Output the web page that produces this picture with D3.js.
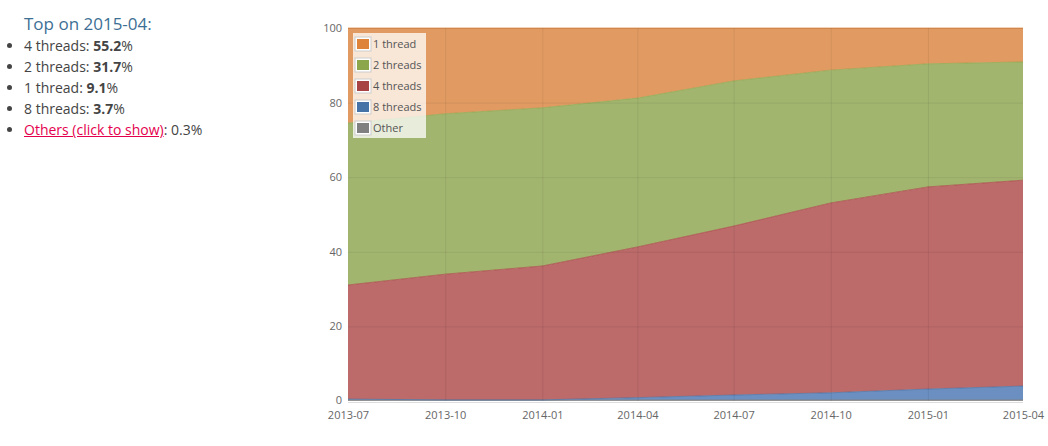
<!DOCTYPE html>
<html>
<head>
<meta charset="utf-8">
<script src="https://cdn.jsdelivr.net/npm/d3@7"></script>
<style>
  body { margin: 0; font-family: "Open Sans", sans-serif; background: #fff; }
  #side { position: absolute; left: 0; top: 13px; width: 290px; color: #444; font-size: 14px; }
  #side h4 { margin: 0 0 0 24px; font-weight: normal; font-size: 17px; color: #3d6f95; line-height: 22px; }
  #side ul { margin: 0; padding-left: 24px; }
  #side li { line-height: 21px; height: 21px; }
  #side a { color: #e4004d; }
  #chart { position: absolute; left: 0; top: 0; }
</style>
</head>
<body>
<div id="side"></div>
<div id="chart"></div>
<script>
// quarterly snapshots, percent share by thread count
const months = ["2013-07", "2013-10", "2014-01", "2014-04", "2014-07", "2014-10", "2015-01", "2015-04"];
const other = [0.3, 0.2, 0.2, 0.3, 0.3, 0.3, 0.3, 0.3];
const eightThreads = [0.2, 0.1, 0.1, 0.6, 1.3, 1.9, 2.9, 3.7];
const fourThreads = [30.6, 33.7, 35.9, 40.4, 45.3, 50.9, 54.2, 55.2];
const twoThreads = [43.4, 43.0, 42.4, 39.9, 38.9, 35.6, 33.0, 31.7];
const oneThread = [25.5, 23.0, 21.4, 18.8, 14.2, 11.3, 9.6, 9.1];
const yTicks = [0, 20, 40, 60, 80, 100];

const seriesNames = ["1 thread", "2 threads", "4 threads", "8 threads", "Other"];
const fillColors = ["#e19b62", "#a2b56f", "#bc6a6a", "#6b8fc0", "#9a9a9a"];
const swatchColors = ["#dd843a", "#8ba64b", "#a84343", "#4572a7", "#808080"];

// side summary for the last month
const last = months.length - 1;
const topList = [
  ["4 threads", fourThreads[last]],
  ["2 threads", twoThreads[last]],
  ["1 thread", oneThread[last]],
  ["8 threads", eightThreads[last]]
];
const side = d3.select("#side");
side.append("h4").text(`Top on ${months[last]}:`);
const ul = side.append("ul");
topList.forEach(([name, v]) => {
  const li = ul.append("li");
  li.append("span").text(`${name}: `);
  li.append("b").text(v.toFixed(1));
  li.append("span").text("%");
});
const liOther = ul.append("li");
liOther.append("a").attr("href", "#").text("Others (click to show)");
liOther.append("span").text(`: ${other[last].toFixed(1)}%`);

/////////////////////
// Chart
/////////////////////
const width = 1048, height = 446;
const margin = { top: 28, right: 25, bottom: 45, left: 348 };
const innerW = width - margin.left - margin.right;
const innerH = height - margin.top - margin.bottom;

const svg = d3.select("#chart").append("svg")
  .attr("width", width)
  .attr("height", height);
const g = svg.append("g").attr("transform", `translate(${margin.left},${margin.top})`);

const data = months.map((m, i) => ({
  month: m,
  "Other": other[i],
  "8 threads": eightThreads[i],
  "4 threads": fourThreads[i],
  "2 threads": twoThreads[i],
  "1 thread": oneThread[i]
}));

const stackKeys = ["Other", "8 threads", "4 threads", "2 threads", "1 thread"];
const stacked = d3.stack().keys(stackKeys)(data);

const parse = d3.utcParse("%Y-%m");
const xScale = d3.scaleUtc()
  .domain(d3.extent(months, parse))
  .range([0, innerW]);
const yScale = d3.scaleLinear().domain([0, 100]).range([innerH, 0]);

const area = d3.area()
  .x(d => xScale(parse(d.data.month)))
  .y0(d => yScale(d[0]))
  .y1(d => yScale(d[1]));

const colorOf = k => fillColors[seriesNames.indexOf(k)];
const lineOf = k => swatchColors[seriesNames.indexOf(k)];

g.append("g").selectAll("path")
  .data(stacked)
  .join("path")
  .attr("fill", d => colorOf(d.key))
  .attr("d", area);

g.append("g").selectAll("path")
  .data(stacked)
  .join("path")
  .attr("fill", "none")
  .attr("stroke", d => lineOf(d.key))
  .attr("stroke-width", 1)
  .attr("opacity", 0.7)
  .attr("d", d3.line().x(d => xScale(parse(d.data.month))).y(d => yScale(d[1])));

// grid over the areas
const grid = g.append("g").attr("stroke", "#000").attr("stroke-opacity", 0.07);
grid.selectAll(".gx").data(months.slice(1, -1)).join("line")
  .attr("x1", d => xScale(parse(d)) + 0.5).attr("x2", d => xScale(parse(d)) + 0.5)
  .attr("y1", 0).attr("y2", innerH);
grid.selectAll(".gy").data(yTicks.slice(1)).join("line")
  .attr("x1", 0).attr("x2", innerW)
  .attr("y1", d => yScale(d) + 0.5).attr("y2", d => yScale(d) + 0.5);

g.append("line")
  .attr("x1", 0).attr("x2", innerW)
  .attr("y1", innerH + 1.5).attr("y2", innerH + 1.5)
  .attr("stroke", "#ddd");

// axes
const xAxis = g.append("g")
  .attr("transform", `translate(0,${innerH})`)
  .call(d3.axisBottom(xScale).tickValues(months.map(parse)).tickFormat(d3.utcFormat("%Y-%m")).tickSize(0).tickPadding(10));
xAxis.select(".domain").remove();
xAxis.selectAll("text").attr("fill", "#666").style("font-size", "11px").style("font-family", "Open Sans");

const yAxis = g.append("g")
  .call(d3.axisLeft(yScale).tickValues(yTicks).tickSize(0).tickPadding(6));
yAxis.select(".domain").remove();
yAxis.selectAll("text").attr("fill", "#666").style("font-size", "11px").style("font-family", "Open Sans")
  .attr("dy", d => d === 0 ? "0.2em" : "0.32em");

// legend
const legend = g.append("g").attr("transform", "translate(5,5)");
legend.append("rect")
  .attr("width", 73).attr("height", 105)
  .attr("fill", "#fff").attr("opacity", 0.75);
const rows = legend.selectAll(".row").data(seriesNames).join("g")
  .attr("transform", (d, i) => `translate(2,${4 + i * 21})`);
rows.append("rect")
  .attr("width", 16).attr("height", 14)
  .attr("fill", "#fff").attr("stroke", "#ccc");
rows.append("rect")
  .attr("x", 2).attr("y", 2).attr("width", 12).attr("height", 10)
  .attr("fill", (d, i) => swatchColors[i]);
rows.append("text")
  .attr("x", 18).attr("y", 11)
  .attr("fill", "#555")
  .style("font-size", "11px")
  .style("font-family", "Open Sans")
  .text(d => d);
</script>
</body>
</html>
